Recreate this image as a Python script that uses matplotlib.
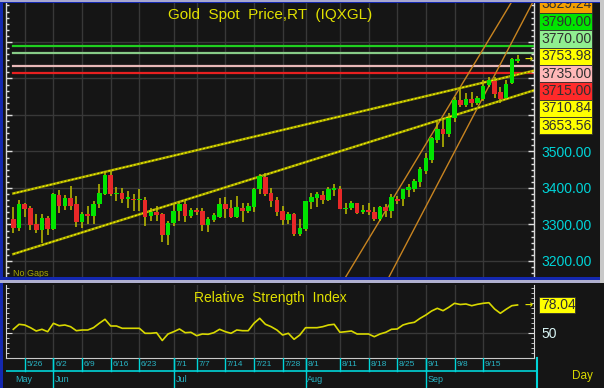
import matplotlib
matplotlib.use('Agg')
import matplotlib.pyplot as plt
from matplotlib.patches import Rectangle
from matplotlib.ticker import MultipleLocator, FuncFormatter, FixedLocator
import numpy as np
import pandas as pd

plt.rcParams['font.family'] = ['Liberation Sans', 'DejaVu Sans']

# ---------------- data ----------------
start_date = '2025-05-22'
end_date = '2025-09-23'

opens = [3314, 3291, 3357, 3344, 3300, 3284, 3317, 3287, 3381, 3351,
         3373, 3355, 3308, 3328, 3322, 3355, 3383, 3436, 3383, 3387,
         3370, 3371, 3366, 3366, 3322, 3335, 3328, 3271, 3305, 3337,
         3357, 3323, 3338, 3337, 3298, 3311, 3321, 3357, 3344, 3320,
         3346, 3337, 3348, 3396, 3430, 3387, 3367, 3337, 3311, 3328,
         3275, 3287, 3362, 3372, 3382, 3368, 3395, 3398, 3342, 3344,
         3358, 3333, 3339, 3334, 3314, 3348, 3337, 3368, 3369, 3395,
         3396, 3417, 3447, 3477, 3532, 3563, 3548, 3591, 3641, 3627,
         3643, 3632, 3643, 3683, 3694, 3662, 3646, 3687, 3749]
highs = [3348, 3366, 3360, 3351, 3328, 3330, 3323, 3385, 3394, 3381,
         3405, 3378, 3335, 3351, 3364, 3410, 3447, 3448, 3403, 3401,
         3392, 3383, 3396, 3374, 3344, 3351, 3332, 3310, 3360, 3364,
         3364, 3346, 3345, 3346, 3320, 3332, 3372, 3374, 3367, 3378,
         3360, 3360, 3401, 3439, 3442, 3401, 3374, 3351, 3335, 3332,
         3314, 3364, 3387, 3390, 3392, 3403, 3412, 3405, 3360, 3364,
         3360, 3353, 3358, 3348, 3351, 3355, 3383, 3378, 3398, 3410,
         3426, 3458, 3495, 3541, 3586, 3586, 3605, 3650, 3678, 3659,
         3664, 3652, 3696, 3705, 3705, 3678, 3696, 3755, 3764]
lows = [3278, 3282, 3320, 3284, 3278, 3248, 3271, 3284, 3332, 3339,
        3339, 3293, 3291, 3302, 3300, 3346, 3381, 3378, 3364, 3360,
        3346, 3337, 3337, 3296, 3310, 3310, 3253, 3244, 3296, 3310,
        3308, 3319, 3325, 3283, 3279, 3308, 3319, 3319, 3317, 3319,
        3308, 3332, 3335, 3383, 3378, 3348, 3323, 3298, 3302, 3268,
        3268, 3282, 3342, 3348, 3355, 3364, 3378, 3342, 3328, 3339,
        3328, 3328, 3326, 3310, 3310, 3321, 3318, 3355, 3351, 3375,
        3390, 3404, 3438, 3469, 3522, 3511, 3541, 3582, 3623, 3623,
        3623, 3627, 3637, 3678, 3646, 3632, 3641, 3685, 3742]
closes = [3291, 3357, 3342, 3298, 3284, 3317, 3287, 3383, 3352, 3373,
          3351, 3308, 3328, 3323, 3355, 3387, 3436, 3383, 3387, 3369,
          3372, 3366, 3368, 3321, 3335, 3326, 3271, 3305, 3337, 3357,
          3323, 3339, 3334, 3298, 3314, 3325, 3355, 3342, 3320, 3348,
          3337, 3351, 3398, 3433, 3383, 3364, 3334, 3311, 3328, 3275,
          3291, 3364, 3374, 3383, 3367, 3398, 3401, 3342, 3346, 3358,
          3332, 3339, 3333, 3314, 3348, 3337, 3374, 3365, 3396, 3402,
          3420, 3451, 3481, 3536, 3563, 3548, 3591, 3641, 3627, 3643,
          3632, 3646, 3680, 3696, 3658, 3644, 3686, 3753, 3753.98]

rsi = [53.7, 58.7, 58.0, 55.3, 52.0, 53.7, 51.3, 59.7, 57.3, 58.0,
       56.3, 52.3, 53.0, 53.0, 55.3, 59.7, 63.7, 57.0, 57.0, 54.7,
       54.7, 54.7, 54.7, 49.7, 49.7, 50.3, 42.5, 49.0, 51.3, 54.0,
       50.3, 50.7, 47.3, 49.0, 48.7, 50.3, 53.7, 51.3, 49.7, 53.0,
       52.3, 52.3, 59.7, 64.7, 58.7, 56.3, 53.0, 48.0, 49.7, 43.7,
       48.0, 55.3, 55.3, 55.3, 56.3, 58.0, 58.7, 50.7, 51.3, 52.0,
       49.0, 49.0, 49.0, 46.3, 49.0, 50.7, 53.7, 54.0, 58.0, 59.7,
       60.7, 64.7, 68.0, 72.0, 74.7, 72.3, 75.7, 79.7, 78.5, 79.0,
       77.3, 78.7, 79.7, 80.3, 74.0, 69.7, 73.7, 77.3, 78.04]

# trend channels: (bar index, price) end points
yellow_upper = [(0, 3385.0), (88, 3710.84)]
yellow_lower = [(0, 3219.0), (88, 3653.56)]
orange_upper = [(58, 3156.0), (88, 3936.6)]
orange_lower = [(62, 3049.2), (88, 3829.24)]

level_values = [3790.00, 3770.00, 3735.00, 3715.00]
level_colors = ['#20D020', '#88CC88', '#E8B8B8', '#E82020']

label_values = ['3829.24', '3790.00', '3770.00', '3753.98', '3735.00', '3715.00', '3710.84', '3653.56']
label_colors = ['#F5A000', '#00E400', '#90EE90', '#FFFF00', '#FFB8B8', '#FF2A2A', '#FFFF00', '#FFFF00']

price_ticks = [3200, 3300, 3400, 3500]

week_ticks = ['2025-05-26', '2025-06-02', '2025-06-09', '2025-06-16', '2025-06-23',
              '2025-07-01', '2025-07-07', '2025-07-14', '2025-07-21', '2025-07-28',
              '2025-08-01', '2025-08-11', '2025-08-18', '2025-08-25', '2025-09-01',
              '2025-09-08', '2025-09-15']
week_labels = ['5/26', '6/2', '6/9', '6/16', '6/23', '7/1', '7/7', '7/14', '7/21', '7/28',
               '8/1', '8/11', '8/18', '8/25', '9/1', '9/8', '9/15']
month_ticks = ['2025-05-22', '2025-06-02', '2025-07-01', '2025-08-01', '2025-09-01']
month_labels = ['May', 'Jun', 'Jul', 'Aug', 'Sep']

# ---------------- layout helpers ----------------
W, H = 604, 388
BG = '#151515'
CYAN = '#00D4D8'
YEL = '#E0E000'
fig = plt.figure(figsize=(W / 100, H / 100), dpi=100, facecolor=BG)

X0, DX = 13.3, 5.73          # pixel position of bar 0 and bar spacing


def add_ax(x0, y0, x1, y1):
    a = fig.add_axes([x0 / W, 1 - y1 / H, (x1 - x0) / W, (y1 - y0) / H])
    a.set_xlim((x0 - X0) / DX, (x1 - X0) / DX)
    return a


def frect(x0, y0, x1, y1, color, z=5, ec='none', lw=0):
    fig.add_artist(Rectangle((x0 / W, 1 - y1 / H), (x1 - x0) / W, (y1 - y0) / H,
                             transform=fig.transFigure, facecolor=color,
                             edgecolor=ec, linewidth=lw, zorder=z))


def ftext(x, y, s, **kw):
    fig.text(x / W, 1 - y / H, s, **kw)


dates = pd.bdate_range(start_date, end_date)
n = len(dates)
idx = np.arange(n)
week_idx = [dates.get_loc(pd.Timestamp(d)) for d in week_ticks]
month_idx = [dates.get_loc(pd.Timestamp(d)) for d in month_ticks]

# ---------------- main price panel ----------------
ax = add_ax(6, 3, 534, 277)
ax.set_facecolor(BG)
ax.set_ylim(3400 - (277 - 188) / 0.365, 3400 + (188 - 3) / 0.365)
xr = ax.get_xlim()[1]

for wi in week_idx:
    ax.axvline(wi, color='#383838', lw=1, zorder=0)
for p in range(3200, 3900, 100):
    ax.axhline(p, color='#383838', lw=1, zorder=0)

for lv, lc in zip(level_values, level_colors):
    ax.plot([0, xr], [lv, lv], color=lc, lw=1.6, zorder=1)

for pts, col in [(orange_upper, '#C88420'), (orange_lower, '#C88420')]:
    (i0, p0), (i1, p1) = pts
    s = (p1 - p0) / (i1 - i0)
    ax.plot([i0, xr], [p0, p0 + s * (xr - i0)], color=col, lw=1.0, zorder=2)

for pts in [yellow_upper, yellow_lower]:
    (i0, p0), (i1, p1) = pts
    s = (p1 - p0) / (i1 - i0)
    xs = [i0, xr]
    ys = [p0, p0 + s * (xr - i0)]
    ax.plot(xs, ys, color='#9A9A00', lw=1.8, zorder=2)
    ax.plot(xs, ys, color='#F2F200', lw=0.9, dashes=(1.5, 1.5), zorder=2)

o = np.array(opens, float)
c = np.array(closes, float)
h = np.array(highs, float)
l = np.array(lows, float)
up = c >= o
ax.vlines(idx, l, h, color='#C0C000', lw=1.1, zorder=3)
body_lo = np.minimum(o, c)
body_h = np.maximum(np.abs(c - o), 4.5)
ax.bar(idx[up], body_h[up], bottom=body_lo[up], width=0.8, color='#00E400', zorder=4, linewidth=0)
ax.bar(idx[~up], body_h[~up], bottom=body_lo[~up], width=0.8, color='#E82828', zorder=4, linewidth=0)

ax.text(xr - 0.9, closes[-1], '\u2192', color=YEL, fontsize=7, fontweight='bold',
        ha='center', va='center', family='DejaVu Sans', zorder=6)

ax.yaxis.set_major_locator(FixedLocator(list(range(3200, 3900, 100))))
ax.yaxis.set_minor_locator(MultipleLocator(100 / 6))
ax.yaxis.set_major_formatter(FuncFormatter(lambda v, p: f'{v:.2f}' if int(round(v)) in price_ticks else ''))
ax.tick_params(axis='y', which='both', left=True, right=True, labelleft=False, labelright=True,
               direction='in', color='#E0E0E0', labelcolor=CYAN, labelsize=10, pad=5)
ax.tick_params(axis='y', which='major', length=4, width=1)
ax.tick_params(axis='y', which='minor', length=2.5, width=1)
ax.tick_params(axis='x', bottom=False, labelbottom=False)
for sp in ['top', 'bottom']:
    ax.spines[sp].set_visible(False)
for sp in ['left', 'right']:
    ax.spines[sp].set_color('#D8D8D8')
    ax.spines[sp].set_linewidth(1)

ax.text(0.0, 3166, 'No Gaps', color='#A8A800', fontsize=6.5, ha='left', va='center')

# ---------------- RSI panel ----------------
ra = add_ax(6, 285, 534, 358)
ra.set_facecolor(BG)
ra.set_ylim(383 - 358, 383 - 285)
for wi in week_idx:
    ra.axvline(wi, color='#383838', lw=1, zorder=0)
ra.axhline(50, color='#383838', lw=1, zorder=0)
ra.plot(idx, rsi, color='#D8D800', lw=1.2, zorder=3)
ra.text(ra.get_xlim()[1] - 0.9, rsi[-1], '\u2192', color=YEL, fontsize=7, fontweight='bold',
        ha='center', va='center', family='DejaVu Sans', zorder=6)
ra.yaxis.set_major_locator(FixedLocator([50]))
ra.yaxis.set_minor_locator(MultipleLocator(5))
ra.yaxis.set_major_formatter(FuncFormatter(lambda v, p: f'{v:.0f}'))
ra.tick_params(axis='y', which='both', left=True, right=True, labelleft=False, labelright=True,
               direction='in', color='#E0E0E0', labelcolor='#D8F4F4', labelsize=10, pad=5)
ra.tick_params(axis='y', which='major', length=4)
ra.tick_params(axis='y', which='minor', length=2.5)
ra.tick_params(axis='x', bottom=False, labelbottom=False)
ra.spines['top'].set_visible(False)
ra.spines['bottom'].set_color('#C8C8C8')
for sp in ['left', 'right']:
    ra.spines[sp].set_color('#D8D8D8')

# ---------------- date axis ----------------
da = add_ax(6, 358, 537, 388)
da.set_ylim(388, 358)
da.axis('off')
for wi, wl in zip(week_idx, week_labels):
    da.plot([wi, wi], [358, 371], color=CYAN, lw=1)
    da.text(wi + 0.3, 365, wl, color='#28B4C4', fontsize=6, ha='left', va='center')
da.plot([da.get_xlim()[0], da.get_xlim()[1]], [371, 371], color=CYAN, lw=1.2)
for k, (mi, ml) in enumerate(zip(month_idx, month_labels)):
    if k > 0:
        da.plot([mi, mi], [358, 388], color=CYAN, lw=1)
    da.text(mi + 0.3, 379.5, ml, color='#28B4C4', fontsize=6.5, ha='left', va='center')
da.plot([da.get_xlim()[1]] * 2, [358, 388], color=CYAN, lw=1.5, clip_on=False)

# ---------------- right side labels ----------------
box_h = 17.3
for k, (lv, lc) in enumerate(zip(label_values, label_colors)):
    cy = 4.5 + box_h * k
    frect(539, cy - box_h / 2, 592, cy + box_h / 2, lc, z=7, ec='#303030', lw=0.6)
    ftext(541, cy, lv, color='#303030', fontsize=10, ha='left', va='center', zorder=8)

frect(539, 297, 575, 313, '#FFFF00', z=7, ec='#303030', lw=0.6)
ftext(541, 305, f'{rsi[-1]:.2f}', color='#303030', fontsize=10, ha='left', va='center', zorder=8)

# ---------------- titles ----------------
ftext(270, 15, 'Gold  Spot  Price,RT  (IQXGL)', color=YEL, fontsize=11, ha='center', va='center', zorder=8)
ftext(270, 298, 'Relative  Strength  Index', color=YEL, fontsize=10, ha='center', va='center', zorder=8)
ftext(582, 376, 'Day', color='#D8D800', fontsize=8.5, ha='center', va='center', zorder=8)

# ---------------- frame / borders ----------------
frect(0, 0, 2.5, 388, '#1428B0', z=9)
frect(0, 0, 604, 1.5, '#A8A8D0', z=9)
frect(0, 1.5, 604, 3, '#1428B0', z=9)
frect(0, 277, 600, 280, '#1428B0', z=9)
frect(0, 280, 600, 283, '#B0B0D0', z=9)
frect(600, 0, 604, 283, '#C8C8C8', z=9)

fig.savefig('out.png', dpi=100, facecolor=BG)
